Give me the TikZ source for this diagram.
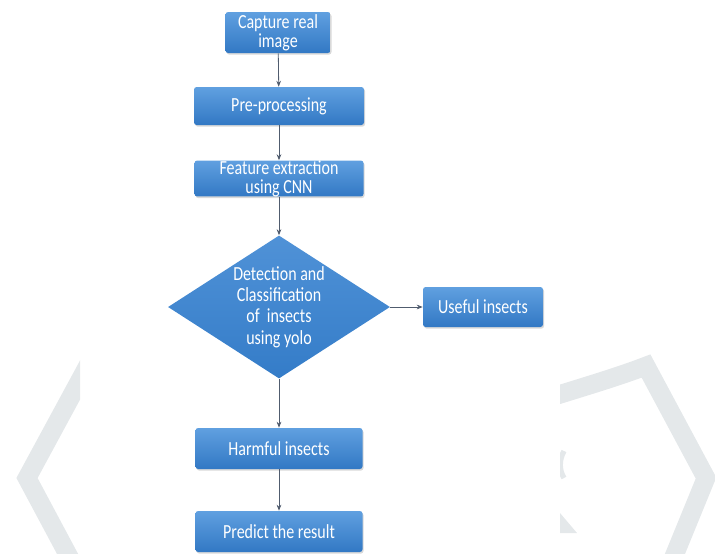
\documentclass[tikz,border=0pt]{standalone}
\usepackage{fontspec}
\newfontfamily\boxfont[FakeStretch=0.8]{Carlito}
\usetikzlibrary{shapes.geometric,arrows.meta,shadows}
\definecolor{boxtop}{RGB}{96,160,224}
\definecolor{boxbottom}{RGB}{50,120,196}
\definecolor{dectop}{RGB}{80,146,215}
\definecolor{decbottom}{RGB}{52,124,200}
\definecolor{arrowgrey}{RGB}{80,92,110}
\definecolor{wmgrey}{RGB}{228,232,234}

\begin{document}
\begin{tikzpicture}[x=0.75pt,y=0.75pt,yscale=-1,xscale=1,
  flowbox/.style={rectangle, rounded corners=2pt, draw=none,
    top color=boxtop, bottom color=boxbottom,
    drop shadow={opacity=0.3, shadow xshift=0.8pt, shadow yshift=-1.2pt},
    text=white, align=center, inner sep=0pt, font=\boxfont\fontsize{15}{14}\selectfont},
  decision/.style={diamond, aspect=1.55, draw=none, inner sep=0pt,
    top color=dectop, bottom color=decbottom,
    text=white, align=center, font=\boxfont\fontsize{15}{16}\selectfont},
  flowarrow/.style={draw=arrowgrey, line width=0.6pt, -{Stealth[length=4.5pt,width=3.5pt]}},
  wmline/.style={draw=wmgrey, line width=14pt}]
%set diagram size 715 x 554
\useasboundingbox (0,0) rectangle (715,554);

%Watermark strokes, only visible at the sides
\begin{scope}
\clip (0,0) rectangle (80,554) (560,0) rectangle (715,554);
\draw [wmline] (99,345) -- (27,478) -- (74,566);
\draw [wmline] (548,398) .. controls (590,385) and (620,376) .. (646,366) -- (706,478) -- (670,566);
\draw [wmline, line width=4pt] (564,451) .. controls (559,460) and (559,470) .. (564,478);
\fill [wmgrey] (560,513) -- (577,533) -- (560,533) -- cycle;
\end{scope}

%Shape: Rectangle [capture]
\node [flowbox, minimum width=78.75pt, minimum height=30.75pt] (capture) at (278,32.5) {Capture real\\image};
%Shape: Rectangle [preproc]
\node [flowbox, minimum width=127.5pt, minimum height=28.5pt] (preproc) at (279,106) {Pre-processing};
%Shape: Rectangle [feature]
\node [flowbox, minimum width=126.75pt, minimum height=26.25pt] (feature) at (279,178.5) {Feature extraction\\using CNN};
%Shape: Diamond [detect]
\node [decision, minimum width=166.5pt, minimum height=107.25pt] (detect) at (279,307) {Detection and\\Classification\\of\ \ insects\\using yolo};
%Shape: Rectangle [useful]
\node [flowbox, minimum width=90pt, minimum height=30pt] (useful) at (483,307) {Useful insects};
%Shape: Rectangle [harmful]
\node [flowbox, minimum width=125.25pt, minimum height=30.75pt] (harmful) at (279,448.5) {Harmful insects};
%Shape: Rectangle [predict]
\node [flowbox, minimum width=125.25pt, minimum height=30.75pt] (predict) at (279,531.5) {Predict the result};

%Straight Lines
\draw [flowarrow] (capture) -- (preproc);
\draw [flowarrow] (preproc) -- (feature);
\draw [flowarrow] (feature) -- (detect);
\draw [flowarrow] (detect) -- (useful);
\draw [flowarrow] (detect) -- (harmful);
\draw [flowarrow] (harmful) -- (predict);

\end{tikzpicture}
\end{document}
